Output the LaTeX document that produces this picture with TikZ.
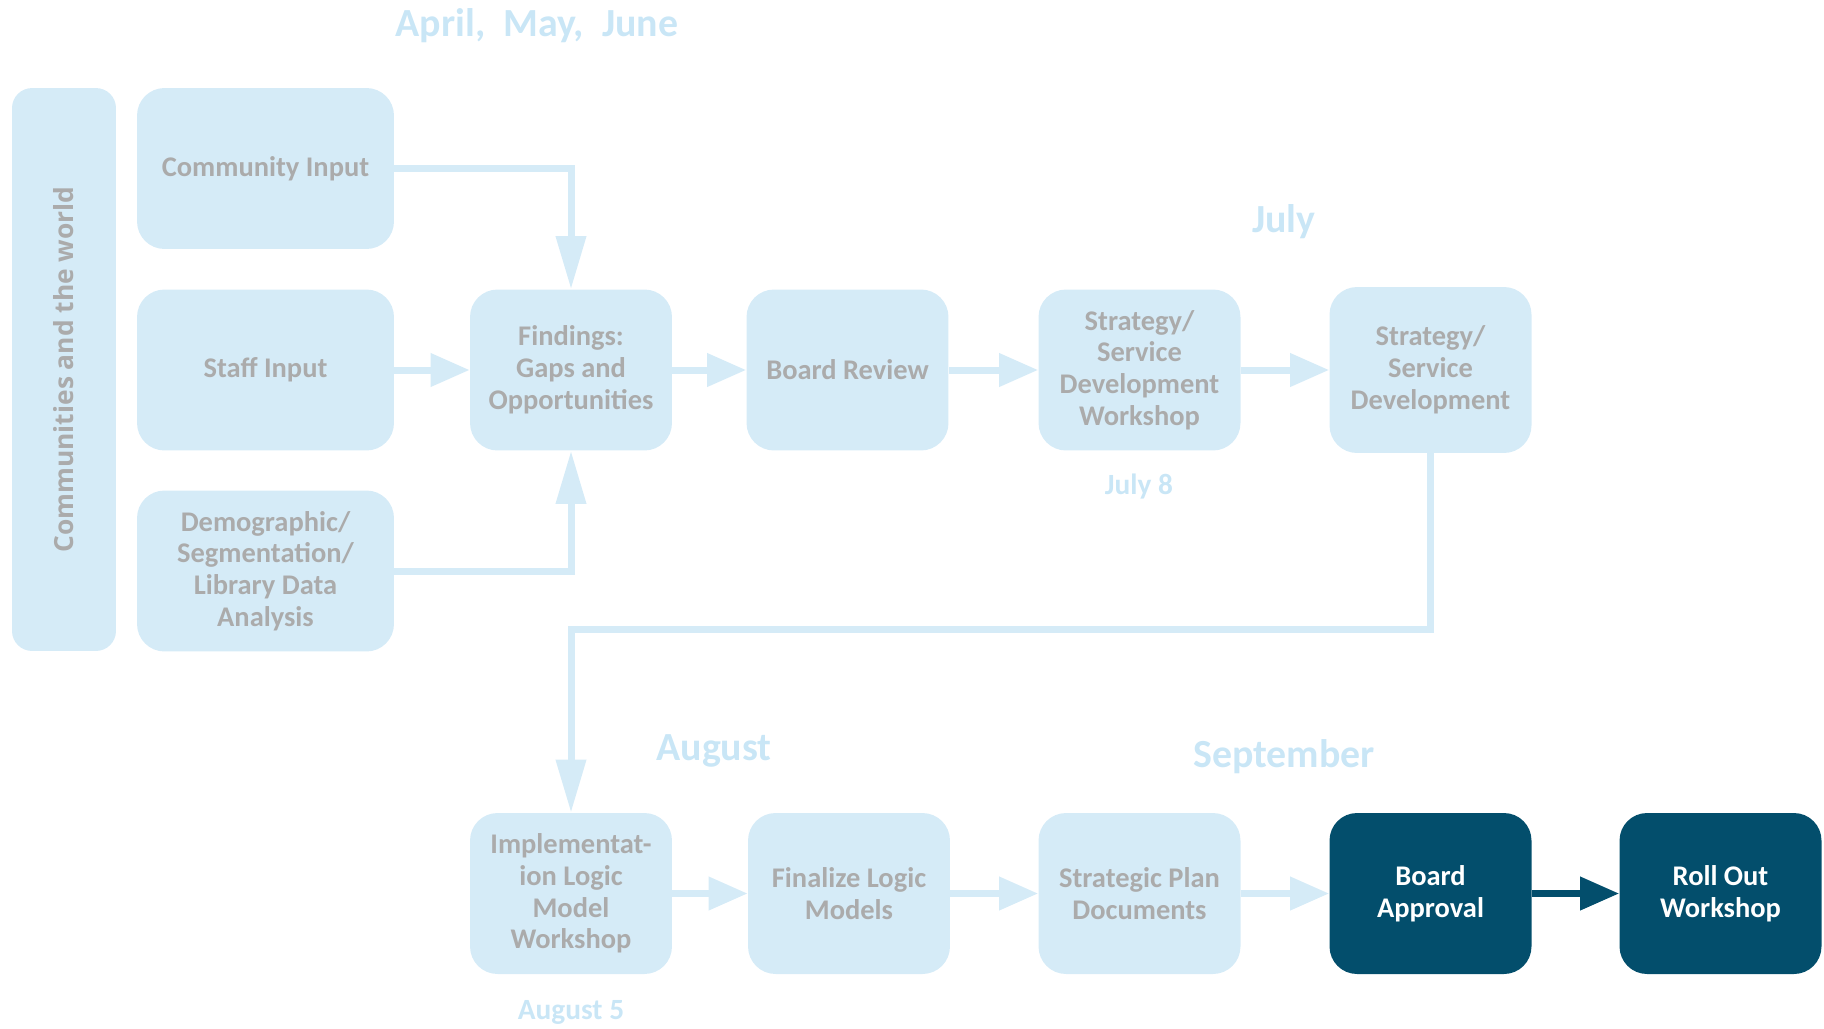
\documentclass[tikz,border=0pt]{standalone}
\usepackage{fontspec}
\setmainfont{Carlito}
\newfontfamily\sidefont{Open Sans}
\usetikzlibrary{arrows.meta,positioning}
\definecolor{paleBlue}{HTML}{D5EBF7}
\definecolor{monthBlue}{HTML}{C9E6F6}
\definecolor{greyText}{HTML}{ABABAB}
\definecolor{navyBox}{HTML}{034E6C}

\begin{document}
\begin{tikzpicture}[x=0.02cm, y=-0.02cm,
    stage/.style = {rectangle, rounded corners=0.55cm, fill=paleBlue,
        minimum width=4.04cm, minimum height=3.22cm, inner sep=0pt,
        align=center, text=greyText, font=\fontsize{16.2}{18.1}\selectfont\bfseries},
    input/.style = {stage, minimum width=5.14cm},
    final/.style = {stage, fill=navyBox, text=white},
    month/.style = {text=monthBlue, font=\fontsize{22.7}{27}\selectfont\bfseries},
    date/.style  = {text=monthBlue, font=\fontsize{16.7}{19}\selectfont\bfseries},
    flow/.style  = {-{Triangle[length=0.78cm,width=0.64cm]}, line width=0.14cm, draw=paleBlue},
    vflow/.style = {flow, -{Triangle[length=1.06cm,width=0.58cm]}},
  ]
  \useasboundingbox (0,0) rectangle (1824,1028);

  % -- side bar ----------------------------------------------------
  \node[stage, rotate=90, minimum width=11.26cm, minimum height=2.08cm,
        rounded corners=0.4cm, font=\sidefont\fontsize{15}{18}\selectfont\bfseries]
        (world) at (64,369.5) {Communities and the world};

  % -- inputs ------------------------------------------------------
  \node[input] (comm)  at (265.5,168.5) {Community Input};
  \node[input] (staff) at (265.5,370)   {Staff Input};
  \node[input] (demo)  at (265.5,571)   {Demographic/\\Segmentation/\\Library Data\\Analysis};

  % -- first row ---------------------------------------------------
  \node[stage] (find)   at (571,370)    {Findings:\\Gaps and\\Opportunities};
  \node[stage] (review) at (847.5,370)  {Board Review};
  \node[stage] (wkshop) at (1139.5,370) {Strategy/\\Service\\Development\\Workshop};
  \node[stage, minimum height=3.32cm] (strat) at (1430.5,370) {Strategy/\\Service\\Development};

  % -- second row --------------------------------------------------
  \node[stage] (impl)    at (571,893.5)    {Implementat-\\ion Logic\\Model\\Workshop};
  \node[stage] (logic)   at (849,893.5)    {Finalize Logic\\Models};
  \node[stage] (plan)    at (1139.5,893.5) {Strategic Plan\\Documents};
  \node[final] (approve) at (1430.5,893.5) {Board\\Approval};
  \node[final] (rollout) at (1720.5,893.5) {Roll Out\\Workshop};

  % -- months and dates --------------------------------------------
  \node[month] (spring) at (537,26)   {April,\ \ May,\ \ June};
  \node[month] (july)   at (1284,222) {July};
  \node[month] (aug)    at (714,751)  {August};
  \node[month] (sept)   at (1284,757) {September};
  \node[date]  (jul8)   at (1139,487) {July 8};
  \node[date]  (aug5)   at (571,1012) {August 5};

  % -- connectors --------------------------------------------------
  \coordinate (back) at (1430.5,629);
  \draw[vflow] (comm.east) -| (find.north);
  \draw[flow]  (staff) -- (find);
  \draw[vflow] (demo.east) -| (find.south);
  \draw[flow]  (find) -- (review);
  \draw[flow]  (review) -- (wkshop);
  \draw[flow]  (wkshop) -- (strat);
  \draw[vflow] (strat.south) -- (back) -| (impl.north);
  \draw[flow]  (impl) -- (logic);
  \draw[flow]  (logic) -- (plan);
  \draw[flow]  (plan) -- (approve);
  \draw[flow, draw=navyBox] (approve) -- (rollout);

\end{tikzpicture}
\end{document}
